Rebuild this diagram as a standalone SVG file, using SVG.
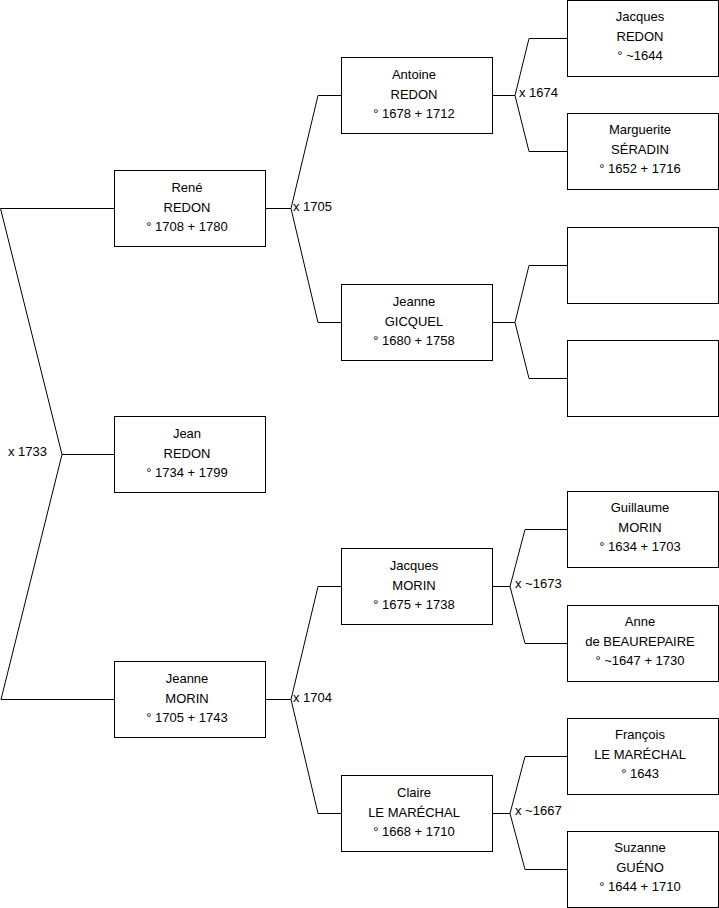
<svg xmlns="http://www.w3.org/2000/svg" width="719" height="908" viewBox="0 0 719 908">
<style>
.box{fill:#fff;stroke:#000;stroke-width:1}
.ln{fill:none;stroke:#000;stroke-width:1}
text{font-family:"Liberation Sans",Arial,sans-serif;font-size:13px;fill:#000}
.c{text-anchor:middle}
</style>
<rect width="719" height="908" fill="#fff"/>
<g id="connectors">
<polyline class="ln" points="114,208.5 0.5,208.5 62,454.5 114,454.5"/>
<polyline class="ln" points="62,454.5 1,699.5 114,699.5"/>
<polyline class="ln" points="265,208.5 291,208.5 318,95.5 341,95.5"/>
<polyline class="ln" points="291,208.5 318,322.5 341,322.5"/>
<polyline class="ln" points="265,699.5 291,699.5 318,586.5 341,586.5"/>
<polyline class="ln" points="291,699.5 318,813.5 341,813.5"/>
<polyline class="ln" points="492,95.5 515,95.5 529,38.5 567,38.5"/>
<polyline class="ln" points="515,95.5 529,151.5 567,151.5"/>
<polyline class="ln" points="492,322.5 515,322.5 529,265.5 567,265.5"/>
<polyline class="ln" points="515,322.5 529,378.5 567,378.5"/>
<polyline class="ln" points="492,586.5 510,586.5 525,529.5 567,529.5"/>
<polyline class="ln" points="510,586.5 525,643.5 567,643.5"/>
<polyline class="ln" points="492,813.5 510,813.5 525,756.5 567,756.5"/>
<polyline class="ln" points="510,813.5 525,869.5 567,869.5"/>
<text x="8" y="456">x 1733</text>
<text x="293" y="211">x 1705</text>
<text x="293" y="702">x 1704</text>
<text x="519" y="97">x 1674</text>
<text x="515" y="588">x ~1673</text>
<text x="515" y="815">x ~1667</text>
</g>
<g id="rene">
<rect class="box" x="114.5" y="170.5" width="151" height="76"/>
<text class="c" x="187" y="192">René</text>
<text class="c" x="187" y="211.5">REDON</text>
<text class="c" x="187" y="231">° 1708 + 1780</text>
</g>
<g id="jean">
<rect class="box" x="114.5" y="416.5" width="151" height="76"/>
<text class="c" x="187" y="438">Jean</text>
<text class="c" x="187" y="457.5">REDON</text>
<text class="c" x="187" y="477">° 1734 + 1799</text>
</g>
<g id="jeanne-morin">
<rect class="box" x="114.5" y="661.5" width="151" height="76"/>
<text class="c" x="187" y="683">Jeanne</text>
<text class="c" x="187" y="702.5">MORIN</text>
<text class="c" x="187" y="722">° 1705 + 1743</text>
</g>
<g id="antoine">
<rect class="box" x="341.5" y="57.5" width="151" height="76"/>
<text class="c" x="414" y="79">Antoine</text>
<text class="c" x="414" y="98.5">REDON</text>
<text class="c" x="414" y="118">° 1678 + 1712</text>
</g>
<g id="jeanne-gicquel">
<rect class="box" x="341.5" y="284.5" width="151" height="76"/>
<text class="c" x="414" y="306">Jeanne</text>
<text class="c" x="414" y="325.5">GICQUEL</text>
<text class="c" x="414" y="345">° 1680 + 1758</text>
</g>
<g id="jacques-morin">
<rect class="box" x="341.5" y="548.5" width="151" height="76"/>
<text class="c" x="414" y="570">Jacques</text>
<text class="c" x="414" y="589.5">MORIN</text>
<text class="c" x="414" y="609">° 1675 + 1738</text>
</g>
<g id="claire">
<rect class="box" x="341.5" y="775.5" width="151" height="76"/>
<text class="c" x="414" y="797">Claire</text>
<text class="c" x="414" y="816.5">LE MARÉCHAL</text>
<text class="c" x="414" y="836">° 1668 + 1710</text>
</g>
<g id="jacques-redon">
<rect class="box" x="567.5" y="0.5" width="151" height="76"/>
<text class="c" x="640" y="21">Jacques</text>
<text class="c" x="640" y="40.5">REDON</text>
<text class="c" x="640" y="60">° ~1644</text>
</g>
<g id="marguerite">
<rect class="box" x="567.5" y="113.5" width="151" height="76"/>
<text class="c" x="640" y="134">Marguerite</text>
<text class="c" x="640" y="153.5">SÉRADIN</text>
<text class="c" x="640" y="173">° 1652 + 1716</text>
</g>
<g id="empty-1">
<rect class="box" x="567.5" y="227.5" width="151" height="76"/>
</g>
<g id="empty-2">
<rect class="box" x="567.5" y="340.5" width="151" height="76"/>
</g>
<g id="guillaume">
<rect class="box" x="567.5" y="491.5" width="151" height="76"/>
<text class="c" x="640" y="512">Guillaume</text>
<text class="c" x="640" y="531.5">MORIN</text>
<text class="c" x="640" y="551">° 1634 + 1703</text>
</g>
<g id="anne">
<rect class="box" x="567.5" y="605.5" width="151" height="76"/>
<text class="c" x="640" y="626">Anne</text>
<text class="c" x="640" y="645.5">de BEAUREPAIRE</text>
<text class="c" x="640" y="665">° ~1647 + 1730</text>
</g>
<g id="francois">
<rect class="box" x="567.5" y="718.5" width="151" height="76"/>
<text class="c" x="640" y="739">François</text>
<text class="c" x="640" y="758.5">LE MARÉCHAL</text>
<text class="c" x="640" y="778">° 1643</text>
</g>
<g id="suzanne">
<rect class="box" x="567.5" y="831.5" width="151" height="76"/>
<text class="c" x="640" y="852">Suzanne</text>
<text class="c" x="640" y="871.5">GUÉNO</text>
<text class="c" x="640" y="891">° 1644 + 1710</text>
</g>
</svg>
